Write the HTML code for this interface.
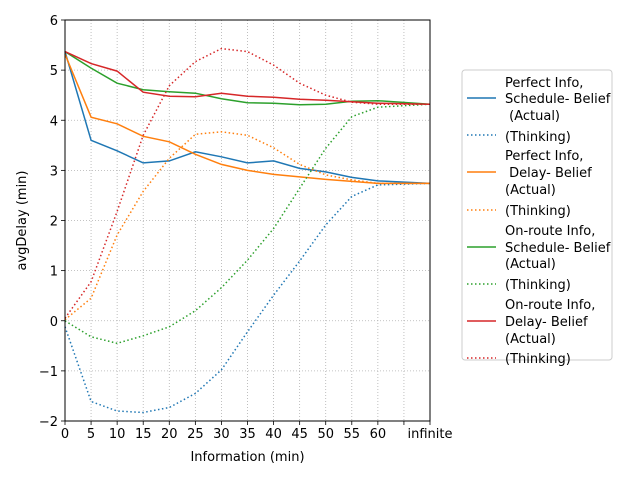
<!DOCTYPE html>
<html><head><meta charset="utf-8"><style>
body{margin:0;background:#fff;font-family:"Liberation Sans","DejaVu Sans",sans-serif;}
svg text{font-family:"DejaVu Sans","Liberation Sans",sans-serif;font-size:13px;fill:#000;white-space:pre;}
</style></head><body>
<svg id="chart" width="640" height="480" viewBox="0 0 640 480" xmlns="http://www.w3.org/2000/svg">
<rect width="640" height="480" fill="#fff"/>
<g id="grid"></g><g id="series"></g><g id="axes"></g><g id="legend"></g>
</svg>
<script>
const xLabels=["0","5","10","15","20","25","30","35","40","45","50","55","60","","infinite"];
const xIdx=[0,1,2,3,4,5,6,7,8,9,10,11,12,14];
const yTicks=[-2,-1,0,1,2,3,4,5,6];
const perfSchedActual=[5.37,3.6,3.39,3.15,3.19,3.37,3.27,3.15,3.19,3.04,2.97,2.86,2.79,2.74];
const perfSchedThink=[-0.12,-1.61,-1.8,-1.83,-1.73,-1.45,-0.98,-0.22,0.51,1.19,1.91,2.48,2.71,2.74];
const perfDelayActual=[5.32,4.06,3.93,3.68,3.57,3.32,3.12,3.0,2.92,2.87,2.82,2.78,2.74,2.74];
const perfDelayThink=[0.02,0.45,1.71,2.58,3.24,3.72,3.77,3.7,3.45,3.12,2.91,2.81,2.74,2.74];
const onSchedActual=[5.37,5.04,4.74,4.61,4.57,4.54,4.43,4.35,4.34,4.31,4.32,4.38,4.39,4.32];
const onSchedThink=[0,-0.32,-0.45,-0.3,-0.12,0.2,0.66,1.21,1.84,2.64,3.44,4.07,4.26,4.32];
const onDelayActual=[5.37,5.13,4.98,4.56,4.48,4.47,4.54,4.48,4.46,4.42,4.4,4.37,4.34,4.32];
const onDelayThink=[0.05,0.78,2.18,3.7,4.69,5.17,5.43,5.37,5.1,4.74,4.5,4.36,4.32,4.32];
const NS="http://www.w3.org/2000/svg";
const L=65,R=430,T=20,B=421;
const xs=i=>L+(R-L)*i/14;
const ys=v=>B-(B-T)*(v+2)/8;
function mk(t,a,p){const e=document.createElementNS(NS,t);for(const k in a)e.setAttribute(k,a[k]);p.appendChild(e);return e;}
const grid=document.getElementById('grid'),axes=document.getElementById('axes'),ser=document.getElementById('series'),leg=document.getElementById('legend');
xLabels.forEach((lab,i)=>{const x=xs(i);
 const g=mk('line',{x1:x,x2:x,y1:T,y2:B,stroke:'#b0b0b0','stroke-width':0.8,'stroke-dasharray':'1,2'},grid);
 
 const tk=mk('line',{x1:x,x2:x,y1:B,y2:B+4,stroke:'#000','stroke-width':0.8},axes);
 
 const t=mk('text',{x:x,y:B+17,'text-anchor':'middle'},axes);t.textContent=lab;
 });
yTicks.forEach(v=>{const y=ys(v);
 const g=mk('line',{x1:L,x2:R,y1:y,y2:y,stroke:'#b0b0b0','stroke-width':0.8,'stroke-dasharray':'1,2'},grid);
 
 const tk=mk('line',{x1:L-4,x2:L,y1:y,y2:y,stroke:'#000','stroke-width':0.8},axes);
 
 const t=mk('text',{x:L-7,y:y+5,'text-anchor':'end'},axes);t.textContent=(v<0?'\u2212'+(-v):String(v));
 });
const fr=mk('rect',{x:L,y:T,width:R-L,height:B-T,fill:'none',stroke:'#000','stroke-width':1},axes);

const xt=mk('text',{x:(L+R)/2,y:461,'text-anchor':'middle'},axes);xt.textContent='Information (min)';

const yt=mk('text',{x:26,y:(T+B)/2,'text-anchor':'middle',transform:'rotate(-90 26 '+((T+B)/2)+')'},axes);yt.textContent='avgDelay (min)';

const series=[
 [perfSchedActual,'#1f77b4',false,'perfect-schedule-actual-line'],
 [perfSchedThink,'#1f77b4',true,'perfect-schedule-thinking-line'],
 [perfDelayActual,'#ff7f0e',false,'perfect-delay-actual-line'],
 [perfDelayThink,'#ff7f0e',true,'perfect-delay-thinking-line'],
 [onSchedActual,'#2ca02c',false,'onroute-schedule-actual-line'],
 [onSchedThink,'#2ca02c',true,'onroute-schedule-thinking-line'],
 [onDelayActual,'#d62728',false,'onroute-delay-actual-line'],
 [onDelayThink,'#d62728',true,'onroute-delay-thinking-line']];
series.forEach(s=>{const pts=s[0].map((v,i)=>xs(xIdx[i]).toFixed(1)+','+ys(v).toFixed(1)).join(' ');
 const a={points:pts,fill:'none',stroke:s[1],'stroke-width':1.5};if(s[2])a['stroke-dasharray']='1.5,2.5';
 const p=mk('polyline',a,ser);});
const lb=mk('rect',{x:462,y:70,width:150,height:290,rx:3,fill:'#fff',stroke:'#ccc','stroke-width':1},leg);

const entries=[
 ['#1f77b4',false,98,[['Perfect Info,',82],['Schedule- Belief',98],[' (Actual)',115]]],
 ['#1f77b4',true,135,[['(Thinking)',136]]],
 ['#ff7f0e',false,172,[['Perfect Info,',155],[' Delay- Belief',172],['(Actual)',189]]],
 ['#ff7f0e',true,210,[['(Thinking)',210]]],
 ['#2ca02c',false,247,[['On-route Info,',230],['Schedule- Belief',247],['(Actual)',263]]],
 ['#2ca02c',true,284,[['(Thinking)',284]]],
 ['#d62728',false,321,[['On-route Info,',304],['Delay- Belief',321],['(Actual)',338]]],
 ['#d62728',true,358,[['(Thinking)',358]]]];
entries.forEach(e=>{const a={x1:467,x2:496,y1:e[2],y2:e[2],stroke:e[0],'stroke-width':1.5};if(e[1])a['stroke-dasharray']='1.5,2.5';
 const l=mk('line',a,leg);
 e[3].forEach(t=>{const tx=mk('text',{x:505,y:t[1]+5},leg);tx.textContent=t[0];
 });});
</script>
</body></html>
